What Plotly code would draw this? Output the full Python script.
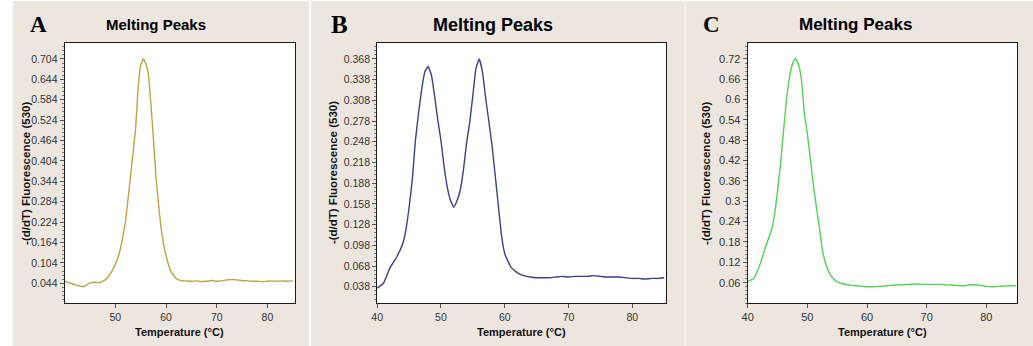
import plotly.graph_objects as go

# ---- data: melting-peak curves, -(d/dT) fluorescence at 530 nm ----
temp_a = [40, 41, 42, 43, 43.5, 44, 45, 46, 47, 48, 49, 50, 51, 52, 53, 54, 54.5, 55, 55.5,
          56, 56.5, 57, 57.5, 58, 58.5, 59, 59.5, 60, 60.5, 61, 62, 63, 64, 65, 66, 67, 68,
          69, 70, 71, 72, 73, 74, 75, 76, 77, 78, 79, 80, 81, 82, 83, 84, 85]
peak_a = [0.050, 0.045, 0.040, 0.036, 0.034, 0.036, 0.045, 0.047, 0.046, 0.054, 0.072, 0.100,
          0.145, 0.225, 0.360, 0.500, 0.620, 0.685, 0.704, 0.690, 0.660, 0.575, 0.470, 0.360,
          0.280, 0.210, 0.160, 0.125, 0.098, 0.078, 0.058, 0.052, 0.051, 0.050, 0.051, 0.049,
          0.050, 0.052, 0.050, 0.051, 0.054, 0.055, 0.054, 0.052, 0.051, 0.050, 0.050, 0.049,
          0.050, 0.051, 0.050, 0.051, 0.050, 0.052]

temp_b = [40, 41, 42, 43, 44, 44.5, 45, 45.5, 46, 46.5, 47, 47.5, 48, 48.5, 49, 49.5, 50,
          50.5, 51, 51.5, 52, 52.5, 53, 53.5, 54, 54.5, 55, 55.5, 56, 56.5, 57, 57.5, 58,
          58.5, 59, 59.5, 60, 60.5, 61, 62, 63, 64, 65, 66, 67, 68, 69, 70, 71, 72, 73, 74,
          75, 76, 77, 78, 79, 80, 81, 82, 83, 84, 85]
peak_b = [0.036, 0.043, 0.065, 0.080, 0.100, 0.120, 0.152, 0.192, 0.250, 0.290, 0.325, 0.350,
          0.357, 0.345, 0.315, 0.280, 0.250, 0.212, 0.182, 0.163, 0.153, 0.162, 0.177, 0.205,
          0.245, 0.275, 0.315, 0.355, 0.368, 0.350, 0.312, 0.278, 0.243, 0.200, 0.155, 0.112,
          0.086, 0.075, 0.066, 0.058, 0.054, 0.052, 0.051, 0.051, 0.051, 0.052, 0.053, 0.052,
          0.053, 0.053, 0.053, 0.054, 0.053, 0.052, 0.052, 0.052, 0.051, 0.050, 0.050, 0.049,
          0.050, 0.050, 0.051]

temp_c = [40, 41, 42, 43, 44, 44.5, 45, 45.5, 46, 46.5, 47, 47.5, 48, 48.5, 49, 49.5, 50,
          50.5, 51, 51.5, 52, 52.5, 53, 53.5, 54, 54.5, 55, 56, 57, 58, 59, 60, 61, 62, 63,
          64, 65, 66, 67, 68, 69, 70, 71, 72, 73, 74, 75, 76, 77, 78, 79, 80, 81, 82, 83, 84, 85]
peak_c = [0.063, 0.072, 0.110, 0.165, 0.216, 0.260, 0.330, 0.410, 0.505, 0.600, 0.665, 0.705,
          0.722, 0.705, 0.660, 0.560, 0.500, 0.425, 0.350, 0.285, 0.225, 0.160, 0.120, 0.096,
          0.080, 0.069, 0.062, 0.056, 0.053, 0.051, 0.049, 0.048, 0.048, 0.049, 0.050, 0.052,
          0.053, 0.054, 0.055, 0.056, 0.055, 0.055, 0.055, 0.055, 0.054, 0.053, 0.052, 0.050,
          0.053, 0.054, 0.052, 0.049, 0.048, 0.049, 0.050, 0.051, 0.051]

# ---- tick labels ----
x_ticks_a = [50, 60, 70, 80]
x_ticks_bc = [40, 50, 60, 70, 80]
y_ticks_a = ["0.044", "0.104", "0.164", "0.224", "0.284", "0.344", "0.404", "0.464",
             "0.524", "0.584", "0.644", "0.704"]
y_ticks_b = ["0.038", "0.068", "0.098", "0.128", "0.158", "0.188", "0.218", "0.248",
             "0.278", "0.308", "0.338", "0.368"]
y_ticks_c = ["0.06", "0.12", "0.18", "0.24", "0.3", "0.36", "0.42", "0.48", "0.54",
             "0.6", "0.66", "0.72"]

panel_letters = ["A", "B", "C"]
chart_title = "Melting Peaks"
x_title = "Temperature (°C)"
y_title = "-(d/dT) Fluorescence (530)"

W, H = 1033, 346


def px_x(v):
    return v / W


def px_y(v):
    return 1 - v / H


BEIGE = "#ECE6DF"
SANS = "Liberation Sans, Arial, sans-serif"
SERIF = "Liberation Serif, Times New Roman, serif"

# panel geometry (pixels): background span, plot box, fonts
panels = [
    dict(bg=(7, 305), box=(59, 291), xr=[40.0, 85.5], yr=[-0.014, 0.751],
         xt=x_ticks_a, yt=y_ticks_a, minor=0.012, temp=temp_a, val=peak_a,
         color="#BEA244", letter_x=33, title_x=151, title_size=15, ytitle_x=20,
         tick_size=10.5, letter_size=23),
    dict(bg=(307, 683), box=(373.3, 664), xr=[40.0, 85.3], yr=[0.0144, 0.391],
         xt=x_ticks_bc, yt=y_ticks_b, minor=0.006, temp=temp_b, val=peak_b,
         color="#3C3F8C", letter_x=335, title_x=490, title_size=18, ytitle_x=329,
         tick_size=10.5, letter_size=25),
    dict(bg=(684, 1033), box=(746, 1017.3), xr=[40.0, 85.2], yr=[0.0, 0.767],
         xt=x_ticks_bc, yt=y_ticks_c, minor=0.012, temp=temp_c, val=peak_c,
         color="#55D255", letter_x=710, title_x=854, title_size=17, ytitle_x=704,
         tick_size=11, letter_size=23),
]

PLOT_TOP, PLOT_BOTTOM = 43, 303

fig = go.Figure()
shapes = []
annotations = []

for i, p in enumerate(panels):
    n = "" if i == 0 else str(i + 1)
    xa, ya = "x" + n, "y" + n
    fig.add_trace(go.Scatter(
        x=p["temp"], y=p["val"], mode="lines",
        line=dict(color=p["color"], width=1.4, shape="spline", smoothing=0.3),
        xaxis=xa, yaxis=ya, showlegend=False, hoverinfo="skip"))

    yvals = [float(t) for t in p["yt"]]
    axis_common = dict(showgrid=False, zeroline=False, showline=True, mirror=True,
                       linecolor="#1a1a1a", linewidth=1, ticks="outside", ticklen=4,
                       tickcolor="#555555",
                       tickfont=dict(family=SANS, size=p["tick_size"], color="#333333"))
    fig.update_layout(**{
        ("xaxis" + n): dict(domain=[px_x(p["box"][0]), px_x(p["box"][1])],
                            range=p["xr"], tickmode="array", tickvals=p["xt"],
                            ticktext=[str(t) for t in p["xt"]], anchor=ya,
                            **axis_common),
        ("yaxis" + n): dict(domain=[px_y(PLOT_BOTTOM), px_y(PLOT_TOP)],
                            range=p["yr"], tickmode="array", tickvals=yvals,
                            ticktext=p["yt"], anchor=xa,
                            minor=dict(ticks="outside", ticklen=2, tickcolor="#777777",
                                       tick0=yvals[0], dtick=p["minor"]),
                            **axis_common),
    })

    # panel background and white plot box
    shapes.append(dict(type="rect", xref="paper", yref="paper", layer="below",
                       x0=px_x(p["bg"][0]), x1=px_x(p["bg"][1]), y0=0, y1=px_y(1),
                       fillcolor=BEIGE, line=dict(width=0)))
    shapes.append(dict(type="rect", xref="paper", yref="paper", layer="below",
                       x0=px_x(p["box"][0]), x1=px_x(p["box"][1]),
                       y0=px_y(PLOT_BOTTOM), y1=px_y(PLOT_TOP),
                       fillcolor="white", line=dict(width=0)))

    cx = (p["box"][0] + p["box"][1]) / 2
    annotations += [
        dict(text="<b>" + panel_letters[i] + "</b>", x=px_x(p["letter_x"]), y=px_y(25),
             xref="paper", yref="paper", xanchor="center", yanchor="middle",
             showarrow=False, font=dict(family=SERIF, size=p["letter_size"], color="black")),
        dict(text="<b>" + chart_title + "</b>", x=px_x(p["title_x"]), y=px_y(25),
             xref="paper", yref="paper", xanchor="center", yanchor="middle",
             showarrow=False, font=dict(family=SANS, size=p["title_size"], color="black")),
        dict(text="<b>" + x_title + "</b>", x=px_x(cx), y=px_y(332),
             xref="paper", yref="paper", xanchor="center", yanchor="middle",
             showarrow=False, font=dict(family=SANS, size=11, color="#111111")),
        dict(text="<b>" + y_title + "</b>", x=px_x(p["ytitle_x"]),
             y=px_y((PLOT_TOP + PLOT_BOTTOM) / 2), textangle=-90,
             xref="paper", yref="paper", xanchor="center", yanchor="middle",
             showarrow=False, font=dict(family=SANS, size=11.5, color="#111111")),
    ]

fig.update_layout(
    width=W, height=H, margin=dict(l=0, r=0, t=0, b=0),
    paper_bgcolor="white", plot_bgcolor="white",
    shapes=shapes, annotations=annotations,
)

fig.write_html("out.html")
